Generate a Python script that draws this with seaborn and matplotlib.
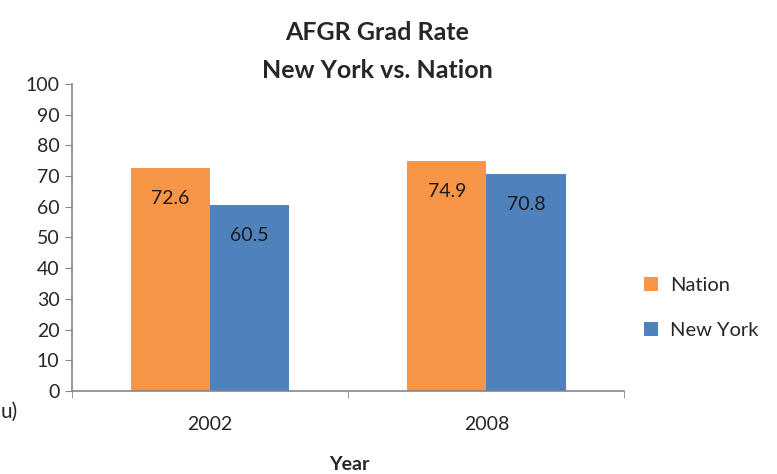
import matplotlib
matplotlib.use("Agg")
import matplotlib.pyplot as plt
from matplotlib.ticker import FixedLocator, MultipleLocator
import pandas as pd
import seaborn as sns

years = ["2002", "2008"]
nation = [72.6, 74.9]
new_york = [60.5, 70.8]
series_names = ["Nation", "New York"]
colors = ["#F79646", "#4F81BD"]

df = pd.DataFrame({
    "Year": years * 2,
    "Rate": nation + new_york,
    "Series": [series_names[0]] * len(years) + [series_names[1]] * len(years),
})

sns.set_style("white")
plt.rcParams["font.family"] = ["Lato", "DejaVu Sans"]

fig = plt.figure(figsize=(7.77, 4.74), dpi=100)
ax = fig.add_axes([0.0927, 0.175, 0.711, 0.648])

sns.barplot(data=df, x="Year", y="Rate", hue="Series", palette=colors,
            width=0.574, saturation=1, linewidth=0, ax=ax, legend=True)

for container in ax.containers:
    for bar, val in zip(container, container.datavalues):
        ax.text(bar.get_x() + bar.get_width() / 2, val - 10, f"{val:.1f}",
                ha="center", va="center", fontsize=14, color="#1a1a1a")

ax.set_ylim(0, 100)
ax.set_xlim(-0.5, 1.5)
ax.yaxis.set_major_locator(MultipleLocator(10))
ax.xaxis.set_minor_locator(FixedLocator([-0.5, 0.5, 1.5]))
ax.tick_params(axis="x", which="major", length=0, pad=18, labelsize=14)
ax.tick_params(axis="x", which="minor", length=5, color="#868686", direction="out", bottom=True)
ax.tick_params(axis="y", length=5, color="#868686", direction="out", left=True, labelsize=14, pad=4)
for side in ["top", "right"]:
    ax.spines[side].set_visible(False)
for side in ["left", "bottom"]:
    ax.spines[side].set_color("#868686")
    ax.spines[side].set_linewidth(1.2)

ax.set_xlabel("")
ax.set_ylabel("")
fig.text(349 / 777, 1 - 465 / 474, "Year", ha="center", va="center",
         fontsize=14, fontweight="bold")
fig.text(377 / 777, 1 - 32 / 474, "AFGR Grad Rate", ha="center", va="center",
         fontsize=18, fontweight="bold")
fig.text(377 / 777, 1 - 70 / 474, "New York vs. Nation", ha="center", va="center",
         fontsize=18, fontweight="bold")
fig.text(1 / 777, 1 - 412 / 474, "u)", ha="left", va="center", fontsize=15)

ax.legend(loc="center left", bbox_to_anchor=(626 / 777, 1 - 308 / 474),
          bbox_transform=fig.transFigure, frameon=False, fontsize=14.5,
          handlelength=0.7, handleheight=0.7, labelspacing=1.4, handletextpad=0.6)

fig.savefig("out.png", dpi=100)
